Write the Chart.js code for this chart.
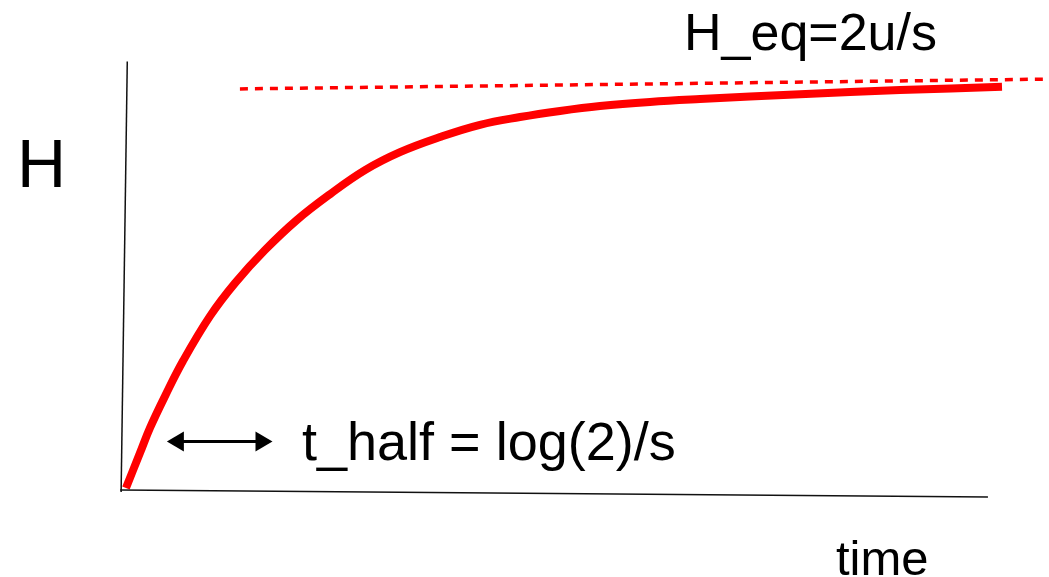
<!DOCTYPE html>
<html>
<head>
<meta charset="utf-8">
<script src="https://cdn.jsdelivr.net/npm/chart.js@4/dist/chart.umd.min.js"></script>
<style>
  html, body { margin: 0; padding: 0; background: #fff; }
  #wrap { width: 1049px; height: 577px; }
</style>
</head>
<body>
<div id="wrap"><canvas id="growthChart" width="1049" height="577"></canvas></div>
<script>
// growth curve H(t) approaching equilibrium (H_eq = 1)
var timeVals = [0.045, 0.205, 0.318, 0.489, 0.693, 1.00, 1.284, 1.625, 1.989, 2.364, 2.761, 3.159, 3.614, 4.068, 4.523, 4.977, 5.432, 6.00, 6.568, 7.705, 8.841, 10.0];
var hVals    = [0.010, 0.096, 0.157, 0.235, 0.321, 0.431, 0.512, 0.593, 0.667, 0.730, 0.789, 0.833, 0.870, 0.900, 0.919, 0.934, 0.946, 0.956, 0.963, 0.975, 0.985, 0.993];

// equilibrium level (hand drawn, slightly sloped)
var eqTime = [1.34, 10.53];
var eqH    = [0.988, 1.012];

// axis strokes
var yAxisTime = [0.06, -0.01];
var yAxisH    = [1.055, 0.0];
var xAxisTime = [-0.02, 9.84];
var xAxisH    = [0.005, -0.012];

// half-life arrow span
var halfStart = 0.51;
var halfEnd = 1.71;
var halfLevel = 0.124;

function toPoints(xs, ys) {
    return xs.map(function (x, i) { return { x: x, y: ys[i] }; });
}

var labelPlugin = {
    id: 'labels',
    afterDatasetsDraw: function (chart) {
        var ctx = chart.ctx;
        var xs = chart.scales.x;
        var ys = chart.scales.y;

        // double headed arrow
        var x1 = xs.getPixelForValue(halfStart);
        var x2 = xs.getPixelForValue(halfEnd);
        var y = ys.getPixelForValue(halfLevel);
        var headLen = 17, headHalf = 10;
        ctx.save();
        ctx.strokeStyle = '#000';
        ctx.fillStyle = '#000';
        ctx.lineWidth = 3;
        ctx.beginPath();
        ctx.moveTo(x1 + headLen - 2, y);
        ctx.lineTo(x2 - headLen + 2, y);
        ctx.stroke();
        ctx.beginPath();
        ctx.moveTo(x1, y);
        ctx.lineTo(x1 + headLen, y - headHalf);
        ctx.lineTo(x1 + headLen, y + headHalf);
        ctx.closePath();
        ctx.fill();
        ctx.beginPath();
        ctx.moveTo(x2, y);
        ctx.lineTo(x2 - headLen, y - headHalf);
        ctx.lineTo(x2 - headLen, y + headHalf);
        ctx.closePath();
        ctx.fill();

        ctx.textBaseline = 'alphabetic';
        ctx.textAlign = 'left';
        ctx.font = '54px "Liberation Sans", Arial, sans-serif';
        ctx.fillText('t_half = log(2)/s', 302, 460);

        ctx.font = '52px "Liberation Sans", Arial, sans-serif';
        ctx.fillText('H_eq=2u/s', 684, 50);

        ctx.font = '49px "Liberation Sans", Arial, sans-serif';
        ctx.fillText('time', 836, 575);

        ctx.font = '68px "Liberation Sans", Arial, sans-serif';
        ctx.fillText('H', 17, 187);
        ctx.restore();
    }
};

var ctx = document.getElementById('growthChart').getContext('2d');

var myChart = new Chart(ctx, {
    type: 'line',
    data: {
        datasets: [
            {
                label: 'y axis',
                data: toPoints(yAxisTime, yAxisH),
                borderColor: '#111',
                borderWidth: 1.5,
                pointRadius: 0,
                clip: false
            },
            {
                label: 'x axis',
                data: toPoints(xAxisTime, xAxisH),
                borderColor: '#111',
                borderWidth: 1.5,
                pointRadius: 0,
                clip: false
            },
            {
                label: 'H_eq',
                data: toPoints(eqTime, eqH),
                borderColor: '#ff0000',
                borderWidth: 3.5,
                borderDash: [8, 7],
                pointRadius: 0,
                clip: false
            },
            {
                label: 'H',
                data: toPoints(timeVals, hVals),
                borderColor: '#ff0000',
                borderWidth: 8,
                borderCapStyle: 'butt',
                borderJoinStyle: 'round',
                tension: 0.4,
                pointRadius: 0,
                clip: false
            }
        ]
    },
    options: {
        responsive: false,
        animation: false,
        layout: {
            padding: { left: 122, right: 47, top: 84, bottom: 85 }
        },
        plugins: {
            legend: { display: false },
            tooltip: { enabled: false }
        },
        scales: {
            x: {
                type: 'linear',
                min: 0,
                max: 10,
                display: false
            },
            y: {
                type: 'linear',
                min: 0,
                max: 1,
                display: false
            }
        }
    },
    plugins: [labelPlugin]
});
</script>
</body>
</html>
